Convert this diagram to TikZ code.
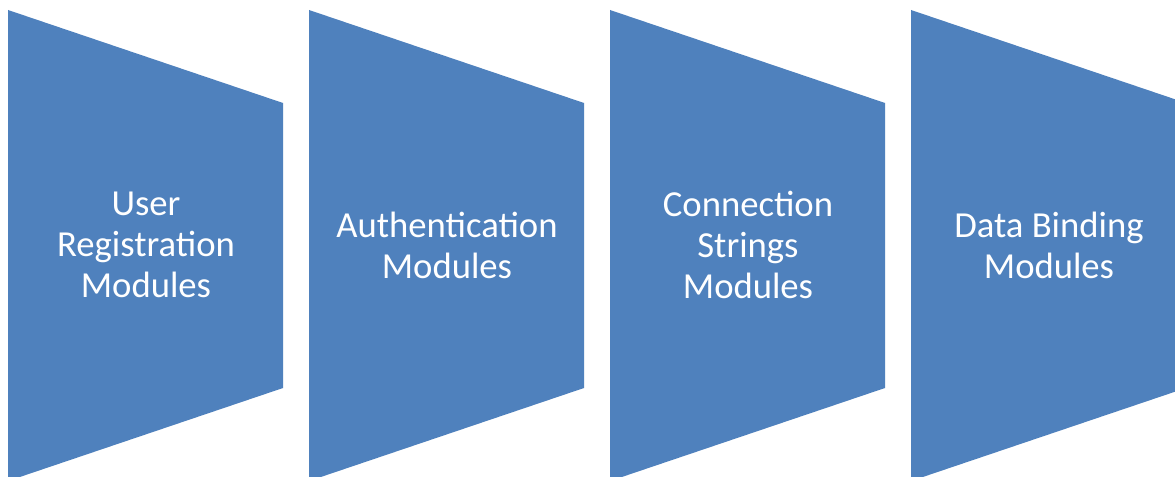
\documentclass[tikz,border=0pt]{standalone}
\usepackage{fontspec}
\setmainfont{Carlito}
\definecolor{stepblue}{HTML}{4F81BD}
\begin{document}
\begin{tikzpicture}[x=0.75pt,y=-0.75pt,
  stage/.style={fill=stepblue},
  stagetext/.style={text=white,align=center,font=\fontsize{27.5}{30.8}\selectfont,inner sep=0pt}]
\useasboundingbox (0,0) rectangle (1175,477);
\fill[white] (0,0) rectangle (1175,477);
\begin{scope}
\clip (0,0) rectangle (1175,477);
\foreach \x/\n/\t in {8/a/{User\\Registration\\Modules},309/b/{Authentication\\Modules},610/c/{Connection\\Strings\\Modules},911/d/{Data Binding\\Modules}}{
  \fill[stage] (\x,10) -- (\x+275,103) -- (\x+275,388) -- (\x,481) -- cycle;
  \node[stagetext] (\n) at (\x+138,245) {\t};
}
\end{scope}
\end{tikzpicture}
\end{document}
